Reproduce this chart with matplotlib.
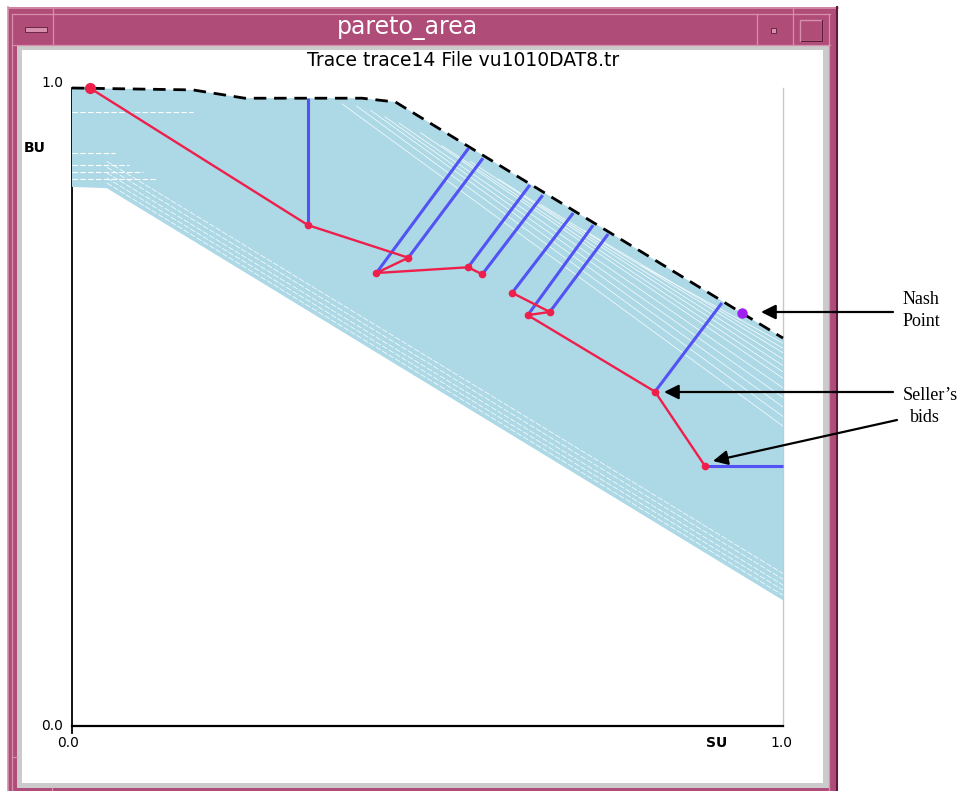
import matplotlib
matplotlib.use("Agg")
import matplotlib.pyplot as plt
from matplotlib.patches import Rectangle

# ---------------- data ----------------
# Pareto frontier (black dashed)
frontier_su = [0.0, 0.170, 0.243, 0.408, 0.455, 1.0]
frontier_bu = [1.0, 0.997, 0.984, 0.984, 0.978, 0.608]

# lower envelope of the shaded (light blue) region
lower_su = [0.0, 0.049, 1.0]
lower_bu = [0.845, 0.843, 0.197]

# visible gaps between individual traces inside the shaded region
gap_top_start_su = [0.38, 0.40, 0.42, 0.44, 0.46, 0.49, 0.52, 0.56, 0.60, 0.66, 0.72, 0.80]
gap_top_start_bu = [0.975, 0.972, 0.965, 0.955, 0.945, 0.930, 0.910, 0.885, 0.857, 0.817, 0.777, 0.722]
gap_top_end_bu = [0.470, 0.485, 0.500, 0.515, 0.530, 0.545, 0.555, 0.565, 0.575, 0.585, 0.592, 0.600]
gap_low_start_bu = [0.851, 0.859, 0.867, 0.876, 0.885]
gap_low_end_bu = [0.205, 0.213, 0.221, 0.230, 0.239]
gap_plateau_bu = [0.962, 0.898, 0.880, 0.868, 0.858]
gap_plateau_end_su = [0.17, 0.06, 0.08, 0.10, 0.12]

# seller's bids (red), two runs
bids1_su = [0.025, 0.332, 0.473, 0.428, 0.557, 0.577]
bids1_bu = [1.000, 0.785, 0.734, 0.710, 0.719, 0.708]
bids2_su = [0.619, 0.672, 0.641, 0.820, 0.890]
bids2_bu = [0.679, 0.649, 0.644, 0.524, 0.408]

# buyer responses (blue): start (bid) and end (frontier) points
resp_start_su = [0.332, 0.428, 0.473, 0.557, 0.577, 0.619, 0.641, 0.672, 0.820, 0.890]
resp_start_bu = [0.785, 0.710, 0.734, 0.719, 0.708, 0.679, 0.644, 0.649, 0.524, 0.408]
resp_end_su = [0.332, 0.558, 0.578, 0.644, 0.662, 0.705, 0.733, 0.754, 0.914, 1.0]
resp_end_bu = [0.984, 0.906, 0.890, 0.848, 0.832, 0.804, 0.785, 0.771, 0.663, 0.408]

# Nash point
nash_su = [0.942]
nash_bu = [0.647]

# texts
window_title = "pareto_area"
plot_title = "Trace trace14 File vu1010DAT8.tr"
x_label = "SU"
y_label = "BU"
tick_lo = "0.0"
tick_hi = "1.0"

# ---------------- figure ----------------
W, H = 962, 791
fig = plt.figure(figsize=(W / 100, H / 100), dpi=100)
fig.patch.set_facecolor("white")

PINK = "#b04c78"
PINK_LT = "#d88fae"
PINK_DK = "#5e1a38"
GREY = "#cbcbcb"

# background "window" (pixel coordinates, y downwards)
bg = fig.add_axes([0, 0, 1, 1], zorder=0)
bg.set_xlim(0, W)
bg.set_ylim(H, 0)
bg.axis("off")

def rect(x0, y0, x1, y1, **kw):
    bg.add_patch(Rectangle((x0, y0), x1 - x0, y1 - y0, **kw))

rect(8, 7, 838, 791, facecolor=PINK, edgecolor="none")
rect(17, 45, 830, 788, facecolor=GREY, edgecolor="none")
rect(22, 50, 823, 783, facecolor="white", edgecolor="none")
# frame bevels
bg.plot([8, 838], [7.5, 7.5], color=PINK_LT, lw=1.2)
bg.plot([8.5, 8.5], [7, 791], color=PINK_LT, lw=1.2)
bg.plot([837, 837], [7, 791], color=PINK_DK, lw=1.5)
bg.plot([12, 830], [14, 14], color=PINK_LT, lw=0.9)
bg.plot([12, 12], [14, 791], color=PINK_LT, lw=0.9)
bg.plot([829, 829], [14, 791], color=PINK_LT, lw=0.9)
bg.plot([12, 830], [45, 45], color=PINK_LT, lw=0.9)
bg.plot([53, 53], [7, 45], color=PINK_LT, lw=0.9)
bg.plot([757, 757], [14, 45], color=PINK_LT, lw=0.9)
bg.plot([793, 793], [7, 45], color=PINK_LT, lw=0.9)
bg.plot([12, 17], [757, 757], color=PINK_LT, lw=0.9)
bg.plot([52, 52], [788, 791], color=PINK_LT, lw=0.9)
# title-bar buttons
rect(25, 27, 47, 32, facecolor=PINK_LT, edgecolor=PINK_DK, lw=0.6)
rect(771, 28, 776, 33, facecolor=PINK_LT, edgecolor=PINK_DK, lw=0.6)
rect(800, 20, 822, 41, facecolor="none", edgecolor=PINK_LT, lw=1.0)
bg.plot([801, 822, 822], [41, 41, 20], color=PINK_DK, lw=0.8)

bg.text(407, 28, window_title, color="white", fontsize=17,
        fontfamily="DejaVu Sans", ha="center", va="center")
bg.text(463, 60, plot_title, color="black", fontsize=13.5,
        fontfamily="DejaVu Sans", ha="center", va="center")

# ---------------- plot area ----------------
ax = fig.add_axes([72 / W, (H - 726) / H, 711 / W, 638 / H], zorder=1)
ax.set_facecolor("none")
ax.set_xlim(0, 1)
ax.set_ylim(0, 1)
ax.set_xticks([])
ax.set_yticks([])
ax.spines["top"].set_visible(False)
ax.spines["left"].set_color("black")
ax.spines["left"].set_linewidth(1.3)
ax.spines["bottom"].set_color("black")
ax.spines["bottom"].set_linewidth(1.6)
ax.spines["right"].set_color("#c8c8c8")
ax.spines["right"].set_linewidth(1.0)

# shaded area between frontier and lower envelope
poly_x = list(frontier_su) + list(reversed(lower_su))
poly_y = list(frontier_bu) + list(reversed(lower_bu))
ax.fill(poly_x, poly_y, color="#add8e6", lw=0, zorder=3)

# gaps between traces (white hairlines)
for sx, sy, ey in zip(gap_top_start_su, gap_top_start_bu, gap_top_end_bu):
    ax.plot([sx, 1.0], [sy, ey], color="white", lw=0.55, alpha=0.9, zorder=4)
for sy, ey in zip(gap_low_start_bu, gap_low_end_bu):
    ax.plot([lower_su[1], 1.0], [sy, ey], color="white", lw=0.6, alpha=0.85,
            ls=(0, (7, 2)), zorder=4)
for y, xe in zip(gap_plateau_bu, gap_plateau_end_su):
    ax.plot([0.0, xe], [y, y], color="white", lw=0.8, ls=(0, (5, 2)), zorder=4)

# frontier
ax.plot(frontier_su, frontier_bu, color="black", lw=2.0,
        dashes=(4.5, 2.8), zorder=6, clip_on=False)

# buyer responses (blue)
for xs, ys, xe, ye in zip(resp_start_su, resp_start_bu, resp_end_su, resp_end_bu):
    ax.plot([xs, xe], [ys, ye], color="#5252f5", lw=2.2, zorder=7,
            solid_capstyle="butt", clip_on=False)

# seller's bids (red)
RED = "#ee1f4b"
ax.plot(bids1_su, bids1_bu, color=RED, lw=1.7, marker="o", ms=4.5,
        zorder=8, clip_on=False)
ax.plot(bids2_su, bids2_bu, color=RED, lw=1.7, marker="o", ms=4.5,
        zorder=8, clip_on=False)
ax.plot(bids1_su[:1], bids1_bu[:1], color=RED, marker="o", ms=7,
        lw=0, zorder=9, clip_on=False)

# Nash point
ax.plot(nash_su, nash_bu, color="#a020f0", marker="o", ms=6.5, lw=0,
        zorder=9, clip_on=False)

# axis labels and tick labels
lbl = dict(fontsize=10, fontfamily="DejaVu Sans", color="black")
ax.text(-0.012, 1.008, tick_hi, ha="right", va="center", transform=ax.transAxes, **lbl)
ax.text(-0.012, 0.0, tick_lo, ha="right", va="center", transform=ax.transAxes, **lbl)
ax.text(-0.005, -0.027, tick_lo, ha="center", va="center", transform=ax.transAxes, **lbl)
ax.text(0.998, -0.027, tick_hi, ha="center", va="center", transform=ax.transAxes, **lbl)
ax.text(0.907, -0.027, x_label, ha="center", va="center", transform=ax.transAxes,
        fontweight="bold", **lbl)
ax.text(-0.052, 0.906, y_label, ha="center", va="center", transform=ax.transAxes,
        fontweight="bold", **lbl)
ax.plot([0, 0], [0, -0.011], color="black", lw=1.3, transform=ax.transAxes,
        clip_on=False)

# ---------------- annotations (overlay, pixel coords) ----------------
ov = fig.add_axes([0, 0, 1, 1], zorder=3)
ov.set_xlim(0, W)
ov.set_ylim(H, 0)
ov.axis("off")
ov.set_facecolor("none")

arrow = dict(arrowstyle="-|>", color="black", lw=1.6, mutation_scale=22,
             shrinkA=0, shrinkB=0)
ov.annotate("", xy=(761, 312), xytext=(893, 312), arrowprops=arrow,
            annotation_clip=False)
ov.annotate("", xy=(664, 392), xytext=(893, 392), arrowprops=arrow,
            annotation_clip=False)
ov.annotate("", xy=(713, 461), xytext=(897, 420), arrowprops=arrow,
            annotation_clip=False)

serif = dict(fontsize=13, fontfamily="Liberation Serif", color="black",
             ha="left", va="center")
ov.text(903, 300, "Nash", **serif)
ov.text(903, 322, "Point", **serif)
ov.text(903, 395, "Seller\u2019s", **serif)
ov.text(910, 418, "bids", **serif)

fig.savefig("out.png", dpi=100, facecolor="white")
